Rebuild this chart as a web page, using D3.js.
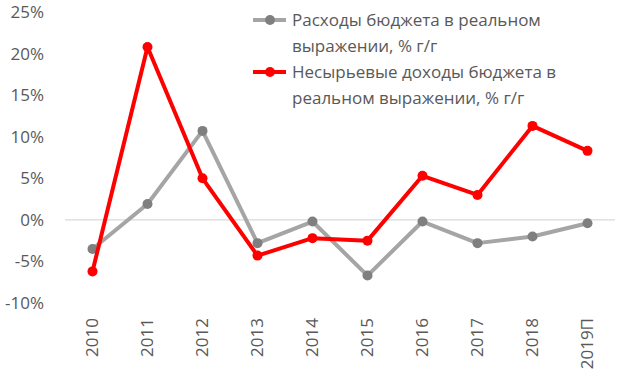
<!DOCTYPE html>
<html><head><meta charset="utf-8">
<script src="https://cdn.jsdelivr.net/npm/d3@7"></script>
<style>body{margin:0;background:#fff}svg{display:block}text{font-family:"Open Sans","Noto Sans",sans-serif;fill:#595959}</style>
</head><body>
<svg id="c" width="620" height="380"></svg>
<script>
const categories = ["2010","2011","2012","2013","2014","2015","2016","2017","2018","2019П"];
const spending = [-3.5, 1.9, 10.7, -2.8, -0.2, -6.7, -0.2, -2.8, -2.0, -0.4];
const nonOilRevenue = [-6.2, 20.8, 5.0, -4.3, -2.2, -2.5, 5.3, 3.0, 11.3, 8.3];
const yTicks = [-10, -5, 0, 5, 10, 15, 20, 25];
const seriesNames = ["Расходы бюджета в реальном выражении, % г/г", "Несырьевые доходы бюджета в реальном выражении, % г/г"];
const legendLines = [["Расходы бюджета в реальном","выражении, % г/г"],["Несырьевые доходы бюджета в","реальном выражении, % г/г"]];

const svg = d3.select("#c");
const x = d3.scaleBand().domain(categories).range([65, 615]);
const y = d3.scaleLinear().domain([-10, 25]).range([303, 12]);

// y labels
const ya = svg.append("g").attr("transform","translate(50,0)")
  .call(d3.axisLeft(y).tickValues(yTicks).tickSize(0).tickPadding(6).tickFormat(d => d + "%"));
ya.select(".domain").remove();
ya.selectAll("text").style("font-size","17px").attr("fill","#595959");

// zero line
svg.append("line").attr("x1",65).attr("x2",615).attr("y1",y(0)).attr("y2",y(0))
  .attr("stroke","#d9d9d9").attr("stroke-width",1.3);

// x labels
const xa = svg.append("g").attr("transform","translate(0,312)")
  .call(d3.axisBottom(x).tickSize(0).tickPadding(0));
xa.select(".domain").remove();
xa.selectAll("text").style("font-size","17px").attr("fill","#595959")
  .attr("text-anchor","end").attr("transform","rotate(-90)")
  .attr("x",-6).attr("y",0).attr("dy","0.35em");

const series = [
  {vals: spending, line:"#A5A5A5", mark:"#7F7F7F"},
  {vals: nonOilRevenue, line:"#FF0000", mark:"#FF0000"}
];
const lineGen = d3.line().x((d,i)=>x(categories[i])+x.bandwidth()/2).y(d=>y(d));
series.forEach(s=>{
  svg.append("path").attr("d",lineGen(s.vals)).attr("fill","none")
    .attr("stroke",s.line).attr("stroke-width",4).attr("stroke-linejoin","round");
  svg.selectAll(null).data(s.vals).enter().append("circle")
    .attr("cx",(d,i)=>x(categories[i])+x.bandwidth()/2).attr("cy",d=>y(d))
    .attr("r",5).attr("fill",s.mark);
});

// legend
const lg = svg.append("g");
const legY = [20, 72];
series.forEach((s,i)=>{
  lg.append("line").attr("x1",253).attr("x2",286).attr("y1",legY[i]).attr("y2",legY[i])
    .attr("stroke",s.line).attr("stroke-width",4);
  lg.append("circle").attr("cx",270).attr("cy",legY[i]).attr("r",5).attr("fill",s.mark);
  legendLines[i].forEach((t,j)=>{
    lg.append("text").attr("x",292).attr("y",legY[i]+j*26).attr("dy","0.35em")
      .style("font-size","17px").text(t);
  });
});
</script>
</body></html>
